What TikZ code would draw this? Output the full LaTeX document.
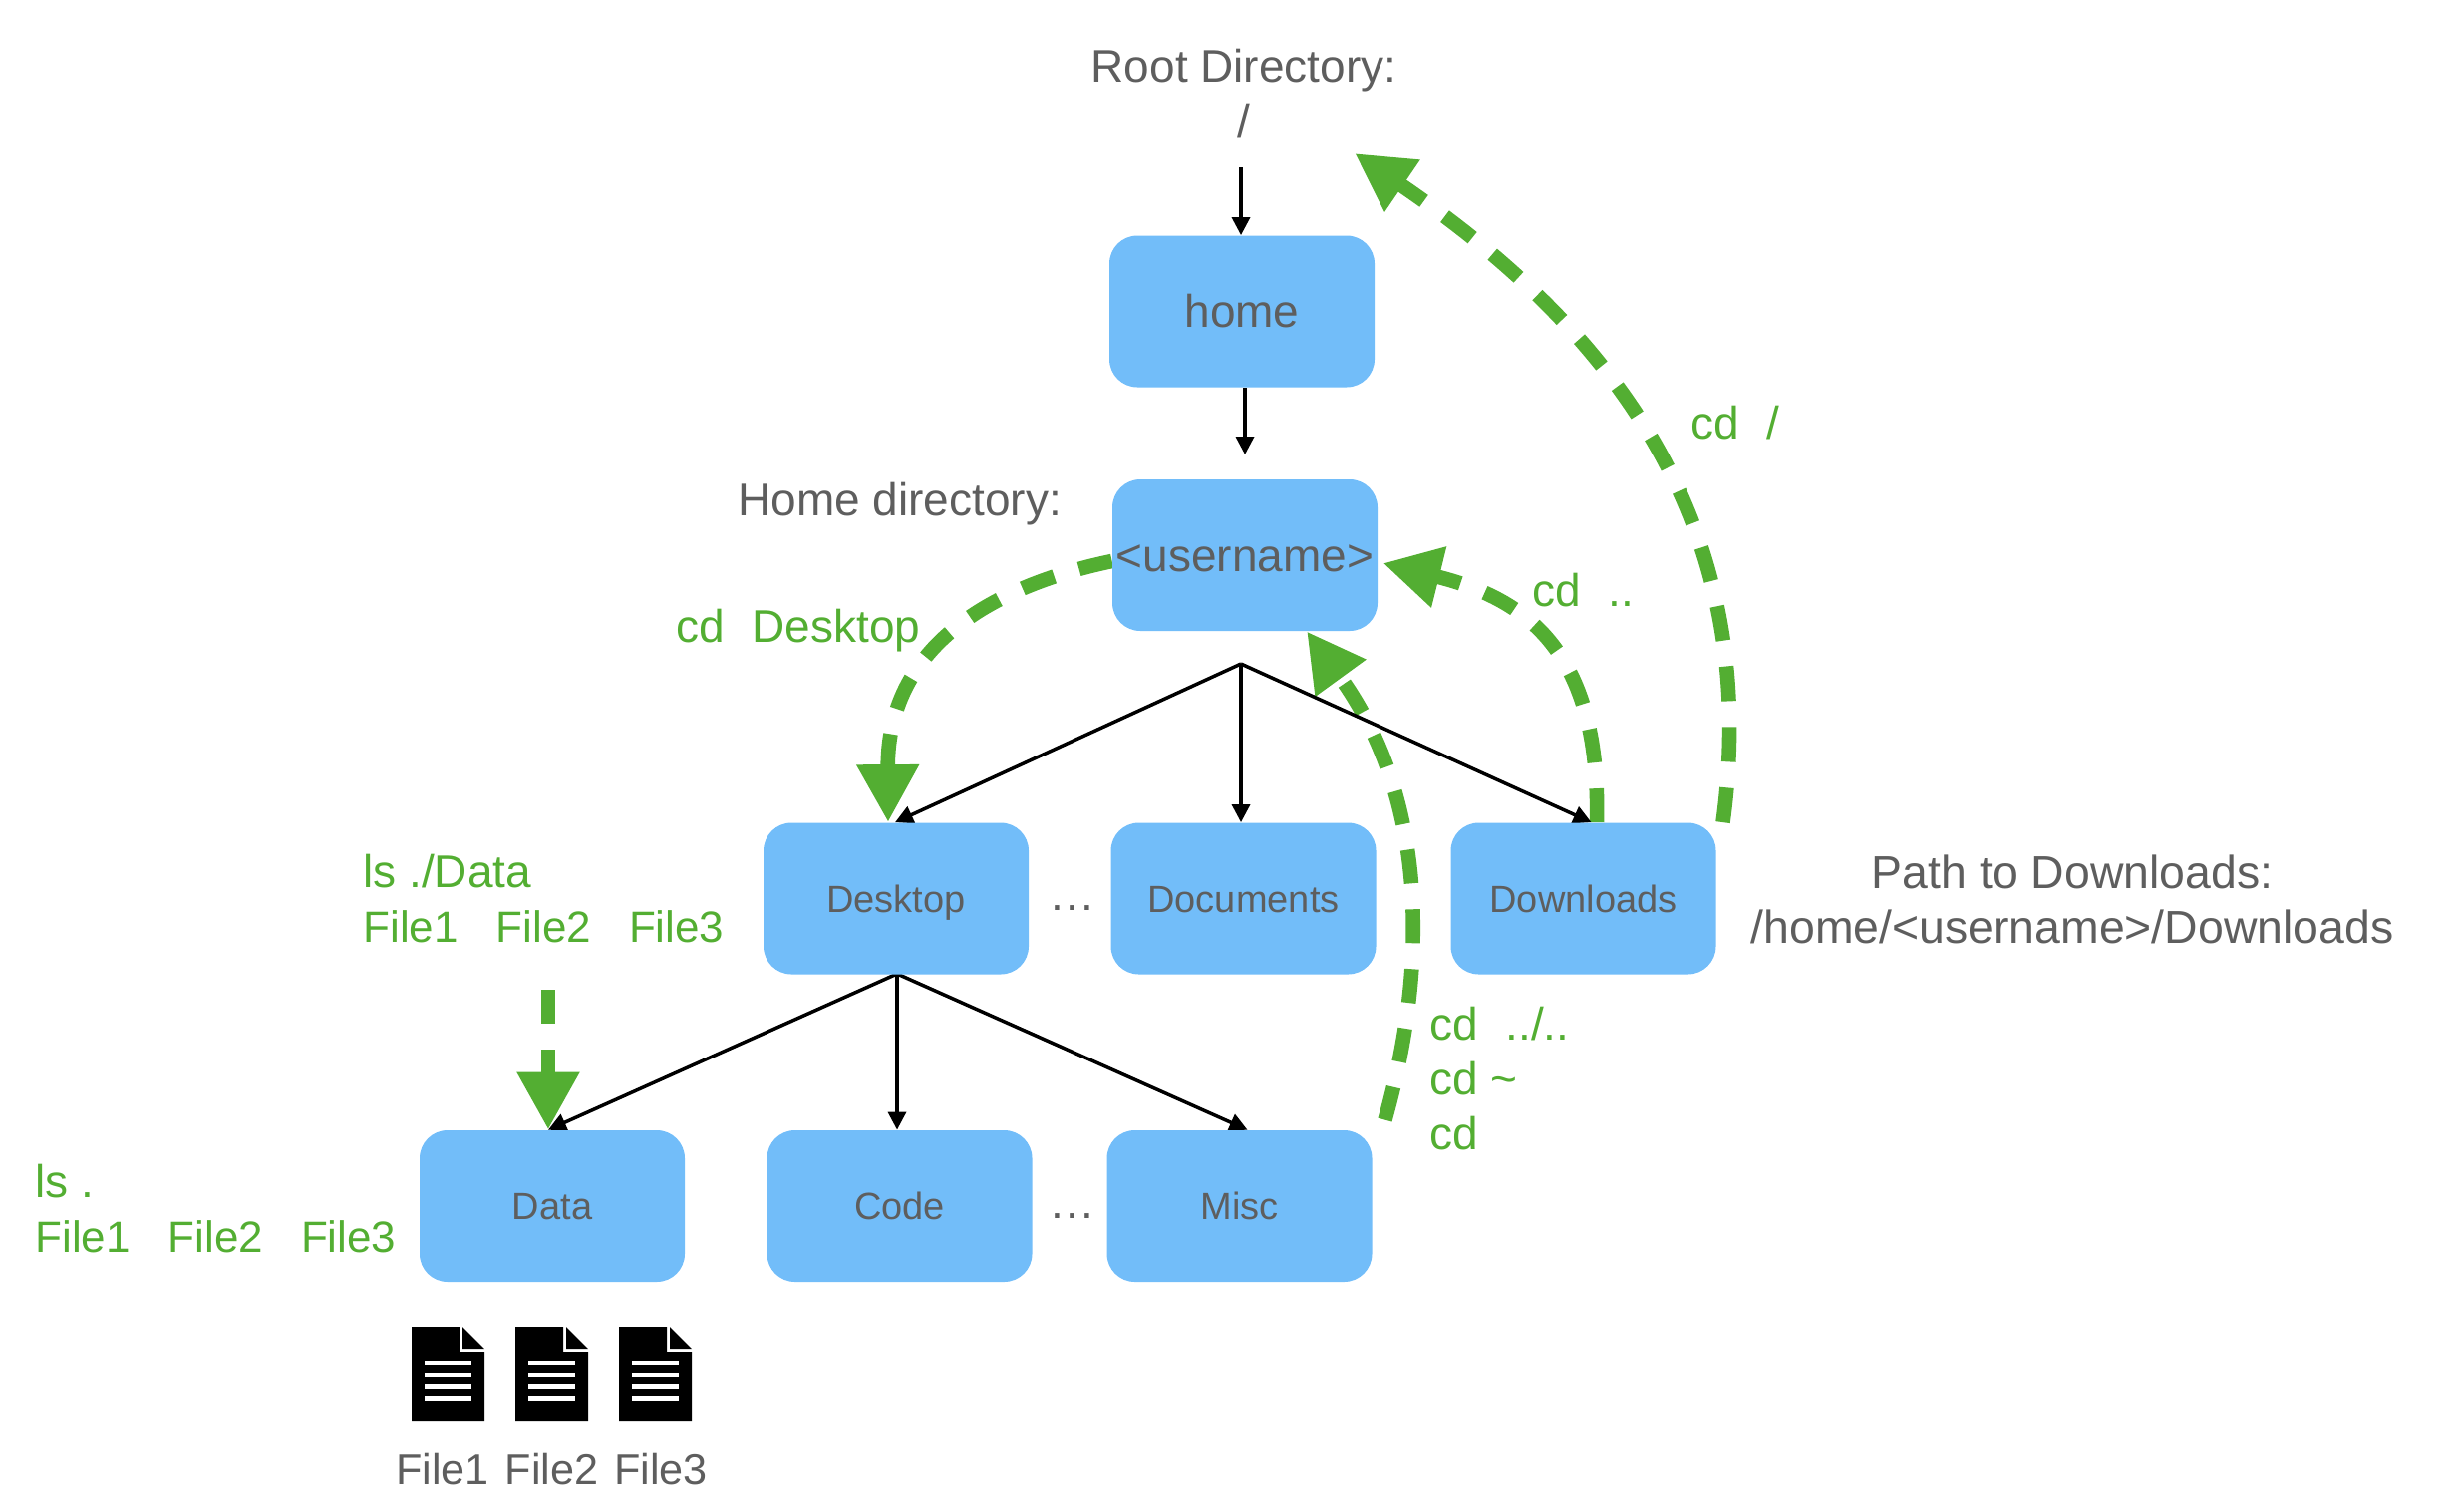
\documentclass[tikz,border=0pt]{standalone}
\usepackage{fontspec}
\setmainfont{Liberation Sans}
\usetikzlibrary{arrows.meta,backgrounds,calc}
\definecolor{boxblue}{HTML}{72BDF9}
\definecolor{txtgray}{HTML}{5E5E5E}
\definecolor{cmdgreen}{HTML}{53AE32}
\newcommand{\cdgap}{\hspace{13.8pt}}
\newcommand{\filerow}{{\fontsize{22}{27.5}\selectfont File1\hspace{19pt}File2\hspace{19pt}File3}}
\tikzset{
  x=0.5pt,y=-0.5pt,
  dirbox/.style={fill=boxblue,rounded corners=14pt,minimum width=133pt,minimum height=76pt,inner sep=0pt,text=txtgray,font=\fontsize{19}{23}\selectfont,text height=13.8pt,text depth=0pt},
  bigbox/.style={dirbox,font=\fontsize{23}{27.5}\selectfont,text height=16.3pt},
  graytext/.style={inner sep=0pt,text=txtgray,font=\fontsize{23}{27.5}\selectfont,align=center},
  filetext/.style={inner sep=0pt,text=txtgray,font=\fontsize{21.6}{27.5}\selectfont},
  greentext/.style={inner sep=0pt,anchor=west,text=cmdgreen,font=\fontsize{23}{27.5}\selectfont,align=left},
  treearrow/.style={draw=black,line width=1.75pt,-{Triangle[length=9pt,width=9pt]}},
  cmdarrow/.style={draw=cmdgreen,line width=7.3pt,dash pattern=on 17pt off 13pt,-{Triangle[length=29pt,width=29.5pt,sep=0pt]}},
  doc/.pic={
    \fill[black] (0,0) -- (48,0) -- (48,25) -- (73,25) -- (73,95) -- (0,95) -- cycle;
    \fill[black] (51,0) -- (73,22) -- (51,22) -- cycle;
    \foreach \ya/\yb in {35/39,46.5/51,58/63,70/75}{
      \fill[white] (13,\ya) rectangle (60,\yb);
    }
  }
}
\begin{document}
\begin{tikzpicture}
\useasboundingbox (0,0) rectangle (2462,1516);
% directory boxes
\node[bigbox] (home) at (1246,312.5) {home};
\node[bigbox] (username) at (1249,557) {<username>};
\node[dirbox] (desktop) at (899,901.5) {Desktop};
\node[dirbox] (documents) at (1247.5,901.5) {Documents};
\node[dirbox] (downloads) at (1588.5,901.5) {Downloads};
\node[dirbox] (data) at (554,1210) {Data};
\node[dirbox] (code) at (902.5,1210) {Code};
\node[dirbox] (misc) at (1243.5,1210) {Misc};
% free labels
\node[graytext] (rootlabel) at (1248,93.5) {Root Directory:\\/};
\node[graytext,anchor=west] (homelabel) at (740,505.5) {Home directory:};
\node[graytext,font=\fontsize{23.2}{27.5}\selectfont] (pathlabel) at (2079,902) {Path to Downloads:\\/home/<username>/Downloads};
\node[graytext] (dotsa) at (1076,911) {.\hspace{1pt}.\hspace{1pt}.};
\node[graytext] (dotsb) at (1076,1220) {.\hspace{1pt}.\hspace{1pt}.};
\node[greentext] (cdroot) at (1696,424) {cd\cdgap /};
\node[greentext] (cdup) at (1537,592) {cd\cdgap ..};
\node[greentext] (cddesk) at (678,633) {cd\cdgap Desktop};
\node[greentext] (lsdata) at (364,902) {ls ./Data\\\filerow};
\node[greentext] (cdhome) at (1434,1082) {cd\cdgap ../..\\cd \textasciitilde\\cd};
\node[greentext] (lshere) at (35,1213) {ls .\\\filerow};
% file icons
\pic at (413,1331) {doc};
\pic at (517,1331) {doc};
\pic at (621,1331) {doc};
\node[filetext] (fileone) at (444,1474) {File1};
\node[filetext] (filetwo) at (553.5,1474) {File2};
\node[filetext] (filethree) at (663,1474) {File3};
% free ends
\coordinate (roottip) at (1359,154);
\coordinate (rootstart) at (1245,168);
\coordinate (homedrop) at (1249,456);
\coordinate (forkone) at (1245,666);
\coordinate (forktwo) at (900,977);
\coordinate (lsstart) at (550,993);
\begin{scope}[on background layer]
  \draw[cmdarrow,dash pattern=on 17.5pt off 13pt] ([xshift=70pt]downloads.north) .. controls (1770,520) and (1610,325) .. (roottip);
  \draw[cmdarrow] ([xshift=6.75pt]downloads.north) .. controls (1606,650) and (1528,600) .. ([xshift=2.5pt,yshift=-4pt]username.east);
  \draw[cmdarrow] ([xshift=0pt,yshift=-3pt]username.west) .. controls (1010,585) and (890,640) .. ([xshift=-4pt]desktop.north);
  \draw[cmdarrow] ([xshift=73pt,yshift=5pt]misc.north) .. controls (1438,950) and (1425,790) .. ([xshift=31pt]username.south);
  \draw[cmdarrow] (lsstart) -- ([xshift=-2pt]data.north);
  \draw[treearrow] (rootstart) -- (rootstart |- home.north);
  \draw[treearrow] (homedrop |- home.south) -- (homedrop);
  \draw[treearrow] (forkone) -- ([xshift=-0.5pt]desktop.north);
  \draw[treearrow] (forkone) -- (documents.north -| forkone);
  \draw[treearrow] (forkone) -- ([xshift=4pt]downloads.north);
  \draw[treearrow] (forktwo) -- ([xshift=-2pt]data.north);
  \draw[treearrow] (forktwo) -- (code.north -| forktwo);
  \draw[treearrow] (forktwo) -- ([xshift=4pt]misc.north);
\end{scope}
\end{tikzpicture}
\end{document}
